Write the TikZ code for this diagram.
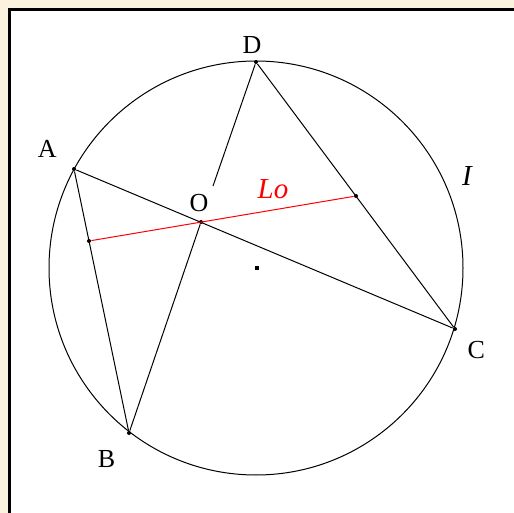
\documentclass[tikz,border=0pt]{standalone}
\usepackage{fontspec}
\setmainfont{Liberation Serif}
\definecolor{papel}{RGB}{252,243,222}
\begin{document}
\begin{tikzpicture}[x=1pt, y=-1pt, line width=1pt, font=\fontsize{26}{31}\selectfont,
    pto/.style={circle, fill=black, inner sep=0pt, minimum size=4pt},
    etiq/.style={font=\fontsize{29}{34}\selectfont\itshape}]
    % Fondo y marco
    \useasboundingbox (0,0) rectangle (514,513);
    \fill[papel] (0,0) rectangle (514,513);
    \clip (0,0) rectangle (514,513);
    \draw[line width=3pt, fill=white] (9,10) rectangle (540,540);
    % Circunferencia
    \node[fill=black, inner sep=0pt, minimum size=3.5pt] (cen) at (257,268) {};
    \draw (256,268) circle[radius=207];
    % Puntos
    \node[pto, label={[label distance=2pt, xshift=-4pt]above:D}] (D) at (256,62) {};
    \node[pto, label={[label distance=13pt]150:A}] (A) at (74,169) {};
    \node[pto, label={[label distance=14pt]-127:B}] (B) at (129,433) {};
    \node[pto, label={[label distance=10pt]-45:C}] (C) at (455,329) {};
    \node[pto, label={[label distance=4pt, xshift=-2pt]above:O}] (O) at (201,222) {};
    \node[pto] (P) at (89,241) {};
    \node[pto] (Q) at (356,196) {};
    \coordinate (E) at (213,186);
    % Textos
    \node[etiq, text=red] (lo) at (273,189) {Lo};
    \node[etiq] (ele) at (467,176) {I};
    % Segmentos
    \draw (A) -- (C);
    \draw (A) -- (B) -- (O);
    \draw (D) -- (C);
    \draw (D) -- (E);
    \draw[red] (P) -- (Q);
\end{tikzpicture}
\end{document}
